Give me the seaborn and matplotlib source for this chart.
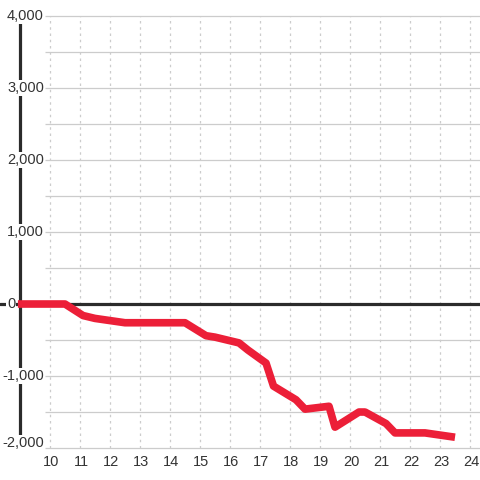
import numpy as np
import pandas as pd
import matplotlib
matplotlib.use("Agg")
import matplotlib.pyplot as plt
import seaborn as sns

# values
hours = [8.93, 10.5, 11.1, 11.5, 12.5, 13.0, 14.5, 15.2, 15.5, 16.3, 16.6,
         17.2, 17.45, 18.2, 18.5, 19.3, 19.5, 20.3, 20.5, 21.2, 21.5, 22.5, 23.5]
balance = [0, 0, -160, -200, -260, -260, -260, -440, -460, -540, -640,
           -820, -1140, -1330, -1460, -1420, -1710, -1500, -1500, -1660, -1790, -1790, -1850]
x_ticks = list(range(10, 25))
y_ticks = [-2000, -1000, 0, 1000, 2000, 3000, 4000]
y_grid = list(range(-2000, 4001, 500))

sns.set_theme(style="white")
plt.rcParams['font.family'] = ['Liberation Sans', 'DejaVu Sans']

df = pd.DataFrame({'hour': hours, 'balance': balance})

fig = plt.figure(figsize=(4.8, 4.8), dpi=100)
ax = fig.add_axes([0, 0, 1, 1])
ax.set_xlim(8.333, 24.333)
ax.set_ylim(-2444, 4222)
ax.axis('off')

# grid
ax.hlines(y_grid, 9.83, 24.333, color='#cccccc', lw=0.9, zorder=1)
ax.vlines(x_ticks, -2000, 4000, color='#cccccc', lw=0.9,
          linestyles=(0, (2, 3)), zorder=1)

# axis lines
ax.axhline(0, color='#2b2b2b', lw=2.3, zorder=2)
ax.vlines(9, -1840, 3900, color='#2b2b2b', lw=2.3, zorder=2)

sns.lineplot(data=df, x='hour', y='balance', ax=ax, color='#ec1f38',
             lw=5.5, zorder=5, solid_capstyle='butt', solid_joinstyle='round')

# y labels: left aligned, minus sign hanging to the left
for v in y_ticks:
    yy = v + 70 if v == y_ticks[0] else v
    xx = 8.333 + (2 if v < 0 else 7) / 30
    ax.text(xx, yy, f"{v:,}", ha='left', va='center', fontsize=10.5,
            color='#333333', zorder=4,
            bbox=dict(facecolor='white', edgecolor='none', pad=0.5))
for v in x_ticks:
    ax.text(v + 0.04, -2194, str(v), ha='center', va='center', fontsize=10.5,
            color='#333333', zorder=4)

fig.savefig('out.png', dpi=100)
